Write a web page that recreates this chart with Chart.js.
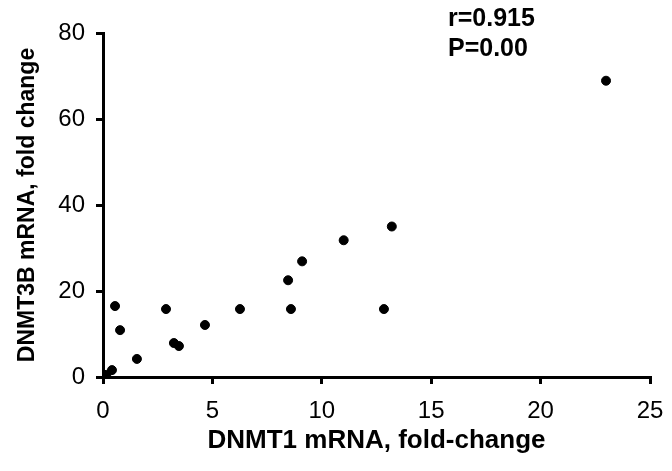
<!DOCTYPE html>
<html>
<head>
<meta charset="utf-8">
<script src="https://cdn.jsdelivr.net/npm/chart.js@4"></script>
<style>
  html, body { margin: 0; padding: 0; background: #fff; }
  #wrap { width: 672px; height: 471px; }
</style>
</head>
<body>
<div id="wrap"><canvas id="scatter"></canvas></div>
<script>
// DNMT1 vs DNMT3B fold change
const dnmt1 = [0.0, 0.15, 0.41, 0.55, 0.78, 1.55, 2.88, 3.24, 3.47, 4.66, 6.26, 8.46, 8.59, 9.1, 11.0, 12.84, 13.2, 22.99];
const dnmt3b = [0.3, 0.5, 1.6, 16.5, 10.9, 4.2, 15.8, 7.9, 7.2, 12.1, 15.8, 22.5, 15.8, 26.9, 31.8, 15.8, 35.0, 68.9];
const xTicks = [0, 5, 10, 15, 20, 25];
const yTicks = [0, 20, 40, 60, 80];
const statLines = ["r=0.915", "P=0.00"];

const points = dnmt1.map((x, i) => ({ x: x, y: dnmt3b[i] }));

const statsText = {
  id: "statsText",
  afterDraw(chart) {
    const ctx = chart.ctx;
    ctx.save();
    ctx.fillStyle = "#000";
    ctx.font = "bold 25px 'Liberation Sans', Arial, sans-serif";
    ctx.textBaseline = "middle";
    ctx.textAlign = "left";
    statLines.forEach((t, i) => ctx.fillText(t, 448, 19 + i * 30));
    ctx.restore();
  }
};

const font = "'Liberation Sans', Arial, sans-serif";

new Chart(document.getElementById("scatter").getContext("2d"), {
  type: "scatter",
  data: {
    datasets: [{
      data: points,
      backgroundColor: "#000",
      borderColor: "#000",
      pointRadius: 4.5,
      pointHoverRadius: 4.5,
    }],
  },
  options: {
    responsive: true,
    maintainAspectRatio: false,
    animation: false,
    layout: { padding: { top: 33, right: 22, left: 0, bottom: 0 } },
    plugins: { legend: { display: false }, tooltip: { enabled: false } },
    scales: {
      x: {
        type: "linear",
        min: 0,
        max: 25,
        afterBuildTicks: (s) => { s.ticks = xTicks.map(v => ({ value: v })); },
        afterFit: (s) => { s.height = 94; s.paddingLeft = 0; s.paddingRight = 0; },
        border: { color: "#000", width: 3 },
        grid: { drawOnChartArea: false, color: "#000", lineWidth: 3, tickLength: 7 },
        ticks: { color: "#000", padding: 13, font: { family: font, size: 24 } },
        title: {
          display: true,
          text: "DNMT1 mRNA, fold-change",
          color: "#000",
          font: { family: font, size: 26, weight: "bold" },
          padding: { top: 0, bottom: 15 },
        },
      },
      y: {
        type: "linear",
        min: 0,
        max: 80,
        afterBuildTicks: (s) => { s.ticks = yTicks.map(v => ({ value: v })); },
        afterFit: (s) => { s.width = 103; s.paddingTop = 0; s.paddingBottom = 0; },
        border: { color: "#000", width: 3 },
        grid: { drawOnChartArea: false, color: "#000", lineWidth: 3, tickLength: 7 },
        ticks: { color: "#000", padding: 11, font: { family: font, size: 24 } },
        title: {
          display: true,
          text: "DNMT3B mRNA, fold change",
          color: "#000",
          font: { family: font, size: 23, weight: "bold" },
          padding: { top: 14, bottom: 0 },
        },
      },
    },
  },
  plugins: [statsText],
});
</script>
</body>
</html>
